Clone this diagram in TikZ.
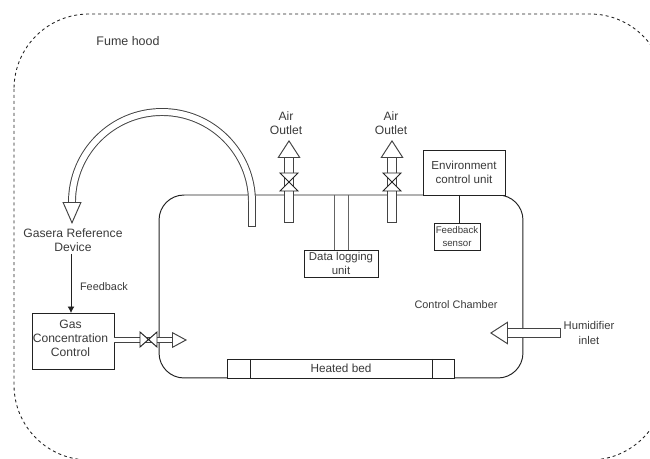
\documentclass[tikz,border=0pt]{standalone}
\usepackage{fontspec}
\setmainfont{Liberation Sans}
\usetikzlibrary{arrows.meta}
\definecolor{hoodInk}{HTML}{222222}
\definecolor{hoodText}{HTML}{3A3A3A}
\begin{document}
\begin{tikzpicture}[
  x=0.02cm,y=-0.02cm,
  font=\fontsize{6.9}{8}\selectfont,
  every node/.style={
    text=hoodText,align=center,outer sep=0pt,inner sep=0pt
  },
  unitbox/.style={
    rectangle,
    draw=hoodInk,
    line width=0.55pt,
    fill=white
  },
  label/.style={
    fill=none
  },
  chamberbox/.style={
    rectangle,
    draw=hoodInk,
    line width=0.55pt,
    rounded corners=0.5cm,
    minimum width=7.28cm,
    minimum height=3.66cm
  },
  wire/.style={
    draw=hoodInk,
    line width=0.55pt
  },
  signal/.style={
    wire,
    -{Latex[length=1.3mm,width=1.4mm]}
  },
  pipe/.style={
    draw=hoodInk!85,
    line width=0.55pt,
    double=white,
    double distance=4.1pt,
    {Bar[width=5.2pt,line width=0.55pt]}-{Triangle[length=3.6mm,width=4.6mm,fill=white,line width=0.55pt]}
  },
  bendpipe/.style={
    draw=hoodInk!85,
    line width=0.55pt,
    double=white,
    double distance=3.4pt,
    {Bar[width=4.5pt,line width=0.55pt]}-{Triangle[length=4.4mm,width=3.8mm,fill=white,line width=0.55pt]}
  },
  thinpipe/.style={
    draw=hoodInk!85,
    line width=0.55pt,
    double=white,
    double distance=1.9pt,
    -{Triangle[length=3mm,width=3.2mm,fill=white,line width=0.55pt]}
  },
  valve/.style={
    draw=hoodInk,
    line width=0.55pt,
    fill=white
  }
]
\path[use as bounding box] (0,0) rectangle (650,459);

% Fume hood outline
\draw[hoodInk,dash pattern=on 1.7pt off 1.7pt,line width=0.5pt,rounded corners=1.5cm]
  (14,14) rectangle (665,460);
\node[label,font=\fontsize{7.1}{8}\selectfont] (hood) at (128,41) {Fume hood};

% Control chamber
\node[chamberbox] (chamber) at (341,286.5) {};
\node[label,font=\fontsize{6.2}{7}\selectfont] (chamberlabel) at (456,305) {Control Chamber};

% Heated bed
\node[unitbox,minimum width=4.56cm,minimum height=0.38cm,font=\fontsize{6.7}{8}\selectfont] (bed) at (341,368.5) {Heated bed};
\draw[wire] (250,359) -- (250,378);
\draw[wire] (432,359) -- (432,378);

% Units
\node[unitbox,minimum width=1.64cm,minimum height=0.9cm,font=\fontsize{6.6}{8}\selectfont] (env) at (464,172.5)
  {Environment\\control unit};
\node[unitbox,minimum width=0.92cm,minimum height=0.54cm,font=\fontsize{5.5}{7}\selectfont] (sensor) at (457,236.5)
  {Feedback\\sensor};
\node[unitbox,minimum width=1.48cm,minimum height=0.54cm,font=\fontsize{6.5}{8}\selectfont] (logging) at (341,263.5)
  {Data logging\\unit};
\node[unitbox,minimum width=1.64cm,minimum height=1.12cm] (gas) at (73,341) {};
\node[label] (gaslabel) at (70.5,338) {Gas\\Concentration\\Control};
\node[label] (gasera) at (73,240) {Gasera Reference\\Device};
\node[label,font=\fontsize{6.2}{8}\selectfont] (feedback) at (104,287) {Feedback};
\node[label] (outletA) at (286,123) {Air\\Outlet};
\node[label] (outletB) at (391,123) {Air\\Outlet};
\node[label,font=\fontsize{6.4}{8}\selectfont] (humidifier) at (589,333) {Humidifier\\inlet};

% Free pipe ends
\coordinate (pipeA) at (289,223);
\coordinate (pipeB) at (392,223);
\coordinate (tipA) at (289,140);
\coordinate (tipB) at (392,140);
\coordinate (gasTip) at (187,340);
\coordinate (humTail) at (561,333);
\coordinate (humTip) at (490,333);
\coordinate (sample) at (252,227);
\coordinate (sensorTap) at (459,223);
\coordinate (gasFeed) at (71,254);

% Connections
\draw[wire] (sensorTap |- env.south) -- (sensorTap);
\draw[signal] (gasFeed) -- (gasFeed |- gas.north);
\draw[wire,draw=hoodInk!70] (334,195) -- (334,250);
\draw[wire,draw=hoodInk!70] (348,195) -- (348,250);

% Hollow pipes
\draw[pipe] (pipeA) -- (tipA);
\draw[pipe] (pipeB) -- (tipB);
\draw[pipe] (humTail) -- (humTip);
\draw[thinpipe] (gas.east |- gasTip) -- (gasTip);
\draw[bendpipe] (sample) -- (252,202) arc[start angle=0,end angle=-180,radius=90] -- (72,224);

% Valves
\foreach \x in {289,392}{
  \draw[valve] (\x-9,173) -- (\x+9,173) -- (\x-9,191) -- (\x+9,191) -- cycle;
}
\draw[valve] (140,332) -- (157,347) -- (157,332) -- (140,347) -- cycle;

\end{tikzpicture}
\end{document}
